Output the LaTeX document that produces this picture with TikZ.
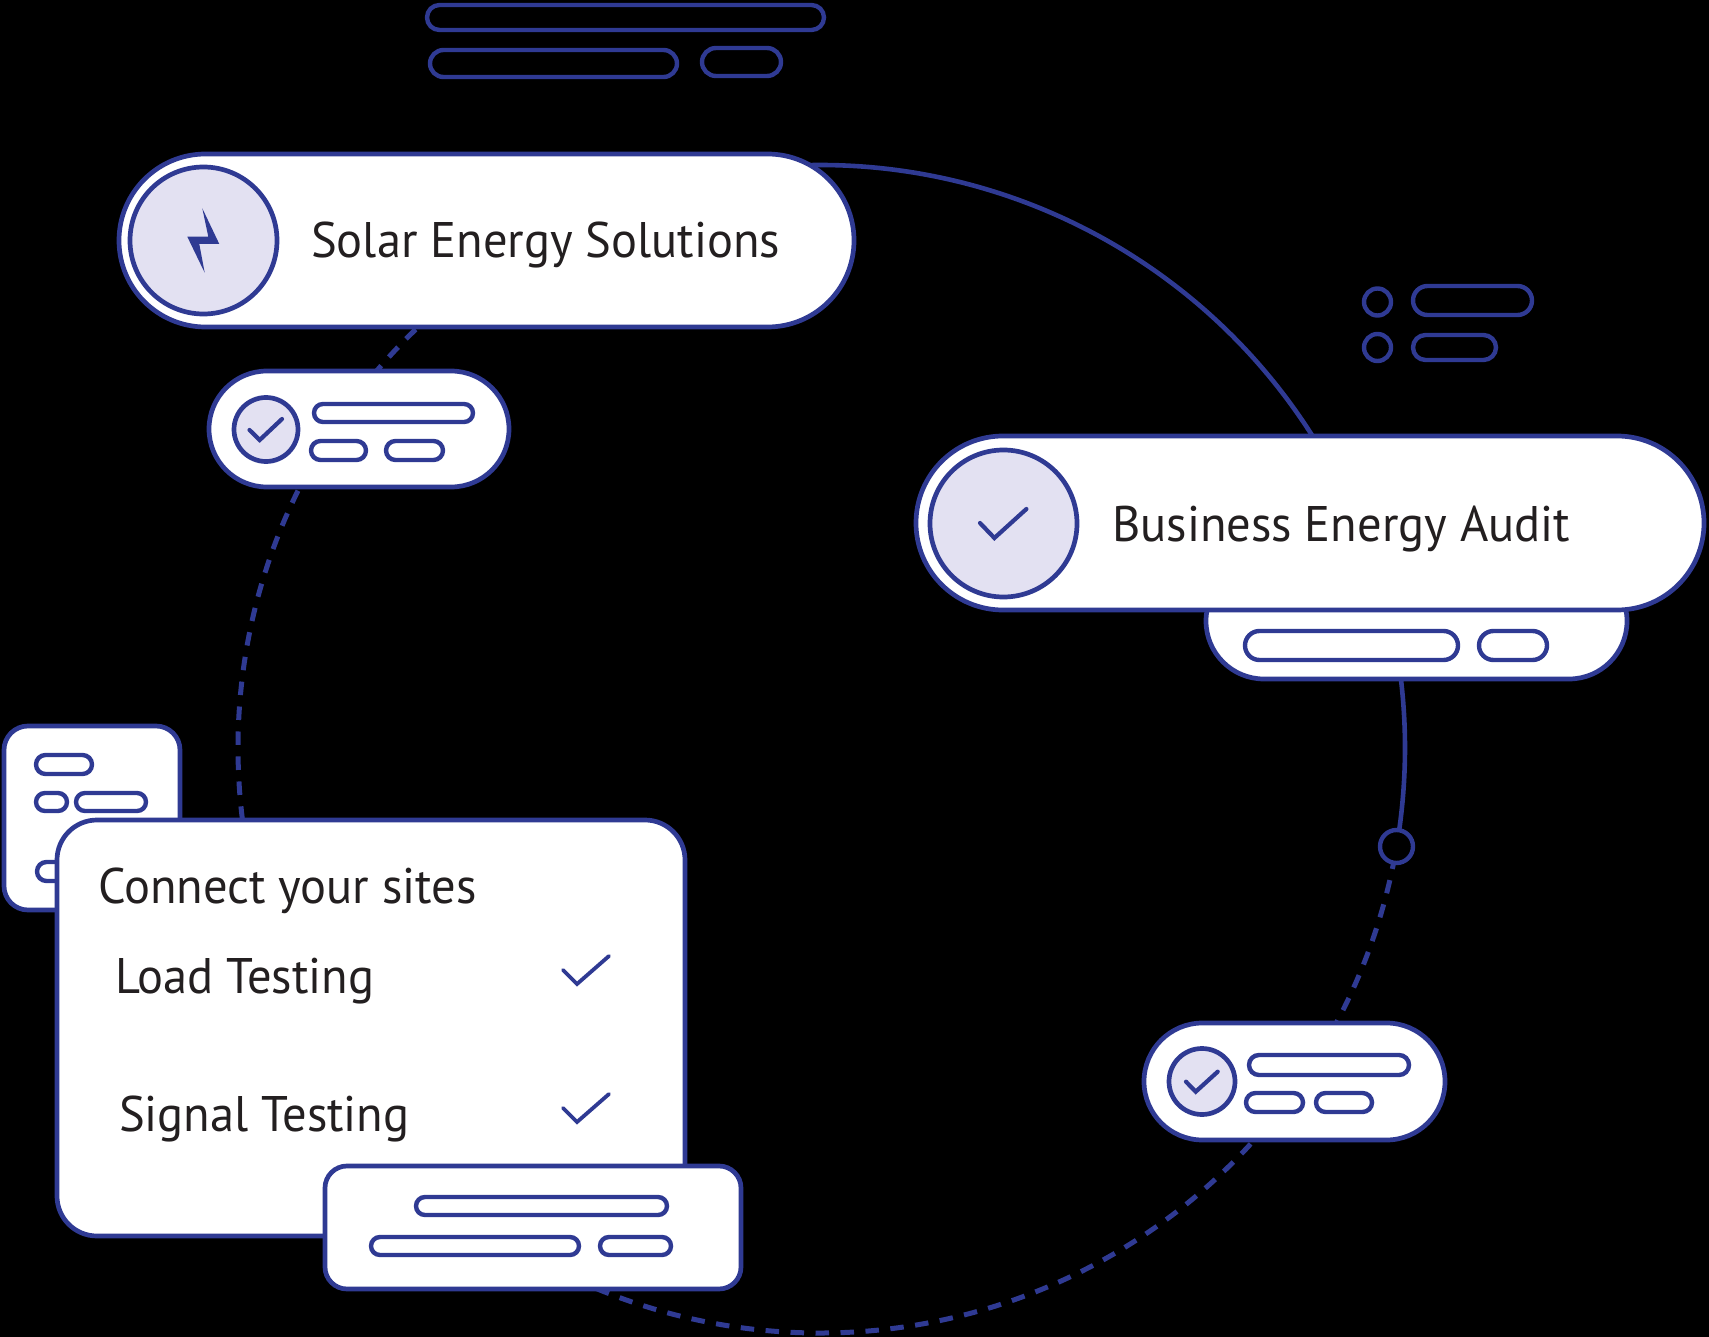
\documentclass[tikz,border=0pt]{standalone}
\usepackage{fontspec}
\setmainfont[FakeStretch=0.97]{PT Sans}
\usetikzlibrary{shapes.misc}
\definecolor{ringblue}{HTML}{2F3A93}
\definecolor{softlilac}{HTML}{E3E1F2}
\definecolor{inkgray}{HTML}{231F20}
\tikzset{
	pillbox/.style={rounded rectangle, draw=ringblue, fill=white, line width=4.7pt, inner sep=0pt},
	barbox/.style={rounded rectangle, draw=ringblue, line width=4.4pt, inner sep=0pt},
	whitebar/.style={barbox, fill=white},
	cardbox/.style={rectangle, draw=ringblue, fill=white, line width=4.7pt, inner sep=0pt},
	iconring/.style={circle, draw=ringblue, fill=softlilac, line width=4.7pt, inner sep=0pt},
	dotring/.style={circle, draw=ringblue, line width=4.4pt, inner sep=0pt},
	ringline/.style={draw=ringblue, line width=4.6pt},
	ringdash/.style={ringline, line width=5pt, dash pattern=on 13.5pt off 11.5pt},
	tickline/.style={draw=ringblue, line width=4.2pt, line cap=round, line join=miter},
	headtext/.style={anchor=base west, inner sep=0pt, text=inkgray, font=\fontsize{50}{60}\selectfont},
}
\begin{document}
\begin{tikzpicture}[x=1pt, y=-1pt]
	\useasboundingbox (0,0) rectangle (1709,1337);
	\fill[black] (0,0) rectangle (1709,1337);
	% the big ring behind everything
	\coordinate (ringc) at (820,748);
	\coordinate (ringa) at ([shift={(-92:583)}]ringc);
	\coordinate (ringb) at ([shift={(-8:585)}]ringc);
	\coordinate (ringd) at ([shift={(11.4:585)}]ringc);
	\coordinate (ringe) at ([shift={(41:585)}]ringc);
	\coordinate (ringf) at ([shift={(172:582)}]ringc);
	\coordinate (ringg) at ([shift={(218:582)}]ringc);
	\draw[ringline] (ringa) arc[start angle=-92, end angle=-30, radius=583];
	\draw[ringline] (ringb) arc[start angle=-8, end angle=8.1, radius=585];
	\draw[ringdash, dash phase=8.1pt] (ringd) arc[start angle=11.4, end angle=28, radius=585];
	\draw[ringdash, dash phase=8.7pt] (ringe) arc[start angle=41, end angle=113, radius=585];
	\draw[ringdash, dash phase=15.7pt] (ringf) arc[start angle=172, end angle=208, radius=582];
	\draw[ringdash, dash phase=7.3pt] (ringg) arc[start angle=218, end angle=228, radius=582];
	% loose bars
	\foreach \nm/\cx/\cy/\wd/\ht in {topa/625.5/17.5/397/25, topb/553.5/63.5/247/27, topc/741.5/62/79/28,
		lista/1472.5/300.5/119/29, listb/1454.5/347.5/83/25}
		\node[barbox, minimum width=\wd pt, minimum height=\ht pt] (\nm) at (\cx,\cy) {};
	\foreach \nm/\cy in {dota/302, dotb/347.5}
		\node[dotring, minimum size=27pt] (\nm) at (1377.5,\cy) {};
	\node[dotring, minimum size=33pt] (ringdot) at (1396.5,846.5) {};
	% solar
	\node[pillbox, minimum width=735pt, minimum height=173pt] (solar) at (486.5,240.5) {};
	\node[iconring, minimum size=147pt] (solaricon) at (203.5,240.5) {};
	\fill[ringblue] (202.3,208.3) -- (219.3,244) -- (199.3,244) -- (204.7,272.7) -- (187.3,236.7) -- (208.3,236.7) -- cycle;
	\node[headtext] (solartext) at (311,258) {Solar Energy Solutions};
	\node[pillbox, minimum width=300pt, minimum height=116pt] (solarsub) at (359,429) {};
	\node[iconring, minimum size=64pt] (solarsubicon) at (266,429.5) {};
	\draw[tickline] (249.5,430) -- (259.7,440) -- (282,419);
	% audit
	\node[pillbox, minimum width=421pt, minimum height=116pt] (auditsub) at (1416.5,621) {};
	\node[pillbox, minimum width=788pt, minimum height=174pt] (audit) at (1310,523) {};
	\node[iconring, minimum size=147pt] (auditicon) at (1003.5,523.5) {};
	\draw[tickline] (980,523) -- (994.4,538) -- (1026.4,509);
	\node[headtext] (audittext) at (1112,541) {Business Energy Audit};
	% site pill
	\node[pillbox, minimum width=301pt, minimum height=117pt] (site) at (1294.5,1081.5) {};
	\node[iconring, minimum size=66pt] (siteicon) at (1202,1081.5) {};
	\draw[tickline] (1186,1081.7) -- (1195.7,1091.7) -- (1217.7,1071.7);
	% cards
	\node[cardbox, rounded corners=24pt, minimum width=176pt, minimum height=184pt] (backcard) at (92,818) {};
	\foreach \nm/\cx/\cy/\wd/\ht in {bara/393.5/413/159/18, barb/338.5/450.5/55/19, barc/414.5/450.5/57/19,
		bard/1351.5/645.5/213/29, bare/1513/645.5/68/29,
		barf/1329/1065/160/20, barg/1274.5/1102.5/57/19, barh/1344/1102.5/56/19,
		bari/64/764.5/56/19, barj/51.5/802/31/18, bark/111/802/70/18, barl/65/871.5/56/19}
		\node[whitebar, minimum width=\wd pt, minimum height=\ht pt] (\nm) at (\cx,\cy) {};
	\node[cardbox, rounded corners=40pt, minimum width=628pt, minimum height=416pt] (maincard) at (371,1028) {};
	\node[headtext] (conntext) at (98,903) {Connect your sites};
	\node[headtext] (loadtext) at (115,993) {Load Testing};
	\node[headtext] (signaltext) at (119,1131) {Signal Testing};
	\foreach \dy in {0,138}
		\draw[tickline, line width=3.8pt] (563,970+\dy) -- (577,984+\dy) -- (609,956+\dy);
	\node[cardbox, rounded corners=22pt, minimum width=416pt, minimum height=123pt] (frontcard) at (533,1227.5) {};
	\foreach \nm/\cx/\cy/\wd in {barm/541.5/1206/251, barn/475/1246/208, baro/635.5/1246/71}
		\node[whitebar, minimum width=\wd pt, minimum height=18pt] (\nm) at (\cx,\cy) {};
\end{tikzpicture}
\end{document}
